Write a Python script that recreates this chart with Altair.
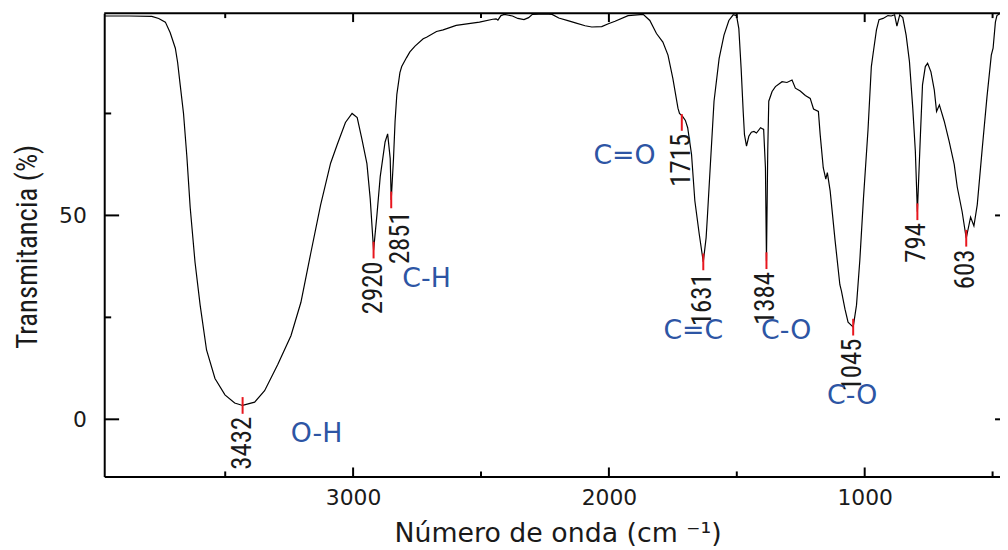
import altair as alt
import pandas as pd

# ---- spectrum ----
wavenumber = [3973, 3876, 3787, 3760, 3734, 3715, 3695, 3686, 3676, 3663, 3650, 3637, 3618, 3598,
              3573, 3540, 3501, 3463, 3432, 3385, 3346, 3295, 3243, 3204, 3166, 3127, 3088, 3062,
              3030, 3004, 2984, 2965, 2946, 2933, 2920, 2907, 2894, 2875, 2865, 2855, 2851, 2842,
              2836, 2829, 2817, 2810, 2791, 2778, 2758, 2726, 2713, 2674, 2648, 2597, 2506, 2454,
              2441, 2434, 2422, 2409, 2377, 2356, 2332, 2314, 2299, 2248, 2222, 2196, 2157, 2131,
              2093, 2067, 2028, 2002, 1976, 1925, 1866, 1840, 1814, 1789, 1769, 1750, 1730, 1724,
              1712, 1701, 1692, 1677, 1664, 1647, 1631, 1620, 1615, 1604, 1589, 1569, 1550, 1531,
              1514, 1501, 1492, 1483, 1475, 1470, 1462, 1453, 1443, 1433, 1423, 1407, 1395, 1388,
              1384, 1379, 1375, 1362, 1349, 1323, 1304, 1284, 1271, 1252, 1232, 1213, 1200, 1181,
              1174, 1162, 1152, 1146, 1135, 1116, 1097, 1091, 1077, 1065, 1045, 1032, 1019, 1005,
              987, 974, 967, 954, 944, 928, 909, 896, 883, 874, 863, 851, 838, 825, 812, 802,
              794, 782, 774, 763, 754, 741, 728, 719, 708, 689, 670, 650, 638, 619, 603, 586,
              573, 560, 541, 522, 505, 498, 489, 483, 471]
transmittance = [98.9, 98.9, 98.8, 98.3, 97.4, 94.8, 91.0, 87.5, 82.0, 75.0, 64.5, 52.0, 38.5, 28.0,
                 17.0, 10.0, 6.0, 4.0, 3.4, 4.2, 7.0, 13.4, 20.5, 28.7, 40.6, 52.6, 62.8, 67.4,
                 72.8, 75.0, 74.0, 68.5, 62.7, 54.0, 41.5, 50.0, 59.5, 68.0, 70.0, 64.0, 53.8, 64.0,
                 73.0, 79.7, 85.0, 86.5, 88.7, 90.1, 91.5, 93.3, 93.7, 95.1, 95.5, 96.6, 97.4, 98.1,
                 98.2, 97.9, 99.0, 99.3, 98.9, 98.3, 98.0, 98.5, 99.3, 99.4, 99.3, 98.4, 97.7, 97.2,
                 96.5, 96.2, 96.3, 97.0, 97.6, 99.0, 99.3, 97.8, 94.6, 92.5, 89.3, 83.6, 76.3, 75.0,
                 74.3, 73.3, 71.5, 65.0, 53.6, 45.5, 38.6, 44.5, 49.6, 61.7, 78.0, 88.5, 94.2, 97.8,
                 99.2, 99.0, 95.8, 86.0, 75.5, 69.8, 67.0, 69.4, 70.4, 70.6, 70.2, 71.5, 71.1, 61.7,
                 38.9, 65.8, 78.0, 80.4, 81.6, 82.8, 82.6, 83.2, 81.2, 80.5, 79.4, 78.7, 76.1, 75.5,
                 69.8, 61.7, 58.9, 60.5, 56.0, 44.0, 33.0, 31.5, 27.0, 23.8, 22.6, 28.0, 39.0, 54.0,
                 71.0, 86.5, 89.7, 95.5, 98.0, 98.3, 99.0, 98.9, 99.2, 96.4, 99.2, 98.5, 94.2, 87.7,
                 76.3, 65.8, 50.9, 69.9, 82.0, 86.5, 87.3, 85.2, 80.8, 75.5, 77.1, 73.1, 68.2, 62.5,
                 56.9, 50.9, 44.4, 49.6, 47.4, 52.6, 66.0, 79.0, 89.3, 91.0, 97.4, 99.0, 99.5]

# ---- peak annotations ----
peak_wn = [3432, 2920, 2851, 1715, 1631, 1384, 1045, 794, 603]
peak_T = [3.4, 41.5, 53.8, 72.8, 38.6, 38.9, 22.6, 50.9, 44.4]
peak_label_wn = [3432, 2920, 2812, 1715, 1631, 1384, 1045, 794, 603]
peak_text = ["3432", "2920", "2851", "1715", "1631", "1384", "1045", "794", "603"]

# ---- functional group labels ----
group_text = ["O-H", "C-H", "C=O", "C=C", "C-O", "C-O"]
group_wn = [3143, 2713, 1939, 1670, 1307, 1049]
group_T = [-3.5, 34.4, 64.6, 21.6, 21.6, 5.6]

# ---- axis ticks ----
x_major = [1000, 2000, 3000]
x_minor = [500, 1500, 2500, 3500]
y_major = [0, 50]
y_minor = [25, 75]

W, H = 903, 467
X_DOMAIN = [3973, 471]
Y_DOMAIN = [-14, 99.6]
TICK_HALF = 2.05

WIDE = "DejaVu Sans"
NARROW = "Liberation Sans Narrow, Roboto Condensed, DejaVu Sans Condensed, sans-serif"
BLUE = "#2d55a4"
RED = "#e8161e"
INK = "#1a1a1a"

xs = alt.Scale(domain=X_DOMAIN, nice=False, zero=False)
ys = alt.Scale(domain=Y_DOMAIN, nice=False, zero=False)

spec = pd.DataFrame({"wn": wavenumber, "T": transmittance})
peaks = pd.DataFrame({"wn": peak_wn, "T": peak_T, "lwn": peak_label_wn, "label": peak_text})
peaks["lo"] = peaks["T"] - TICK_HALF
peaks["hi"] = peaks["T"] + TICK_HALF
groups = pd.DataFrame({"wn": group_wn, "T": group_T, "label": group_text})
xmaj = pd.DataFrame({"wn": x_major})
xmin = pd.DataFrame({"wn": x_minor})
ymaj = pd.DataFrame({"T": y_major})
ymin = pd.DataFrame({"T": y_minor})
one = pd.DataFrame({"a": [0]})

x_axis = alt.Axis(
    values=x_major, format="d", ticks=False, tickSize=0, grid=False, domain=True,
    domainColor="black", domainWidth=2, labelFont=WIDE, labelFontSize=22, labelColor=INK,
    labelPadding=11, title="Número de onda (cm ⁻¹)", titleFont=WIDE, titleFontSize=27,
    titleFontWeight="normal", titleColor=INK, titleX=457, titleY=66,
    titleBaseline="alphabetic", titleAlign="center")
y_axis = alt.Axis(
    values=y_major, format="d", ticks=False, tickSize=0, grid=False, domain=True,
    domainColor="black", domainWidth=2, labelFont=WIDE, labelFontSize=22, labelColor=INK,
    labelPadding=18, title="Transmitancia (%)", titleFont=NARROW, titleFontSize=29,
    titleFontWeight="normal", titleColor=INK, titleX=-77, titleY=235,
    titleBaseline="middle", titleAlign="center", titleAngle=270)

line = alt.Chart(spec).mark_line(color="black", strokeWidth=1.2, clip=True).encode(
    x=alt.X("wn:Q", scale=xs, axis=x_axis),
    y=alt.Y("T:Q", scale=ys, axis=y_axis),
    order=alt.Order("wn:Q", sort="descending"),
)

top_frame = alt.Chart(one).mark_rule(color="black", strokeWidth=2).encode(
    x=alt.value(0), x2=alt.value(W), y=alt.value(0))

def xticks(df, length):
    bottom = alt.Chart(df).mark_rule(color="black", strokeWidth=2).encode(
        x=alt.X("wn:Q", scale=xs), y=alt.value(H), y2=alt.value(H - length))
    top = alt.Chart(df).mark_rule(color="black", strokeWidth=2).encode(
        x=alt.X("wn:Q", scale=xs), y=alt.value(0), y2=alt.value(length))
    return [bottom, top]

def yticks(df, length, right_len):
    left = alt.Chart(df).mark_rule(color="black", strokeWidth=2).encode(
        y=alt.Y("T:Q", scale=ys), x=alt.value(0), x2=alt.value(length))
    layers = [left]
    if right_len > 0:
        right = alt.Chart(df).mark_rule(color="black", strokeWidth=2).encode(
            y=alt.Y("T:Q", scale=ys), x=alt.value(W - right_len), x2=alt.value(W))
        layers.append(right)
    return layers

red = alt.Chart(peaks).mark_rule(color=RED, strokeWidth=2).encode(
    x=alt.X("wn:Q", scale=xs),
    y=alt.Y("lo:Q", scale=ys), y2="hi:Q")

peak_labels = alt.Chart(peaks).mark_text(
    angle=270, align="right", baseline="middle", font=NARROW, fontSize=27, color=INK, dx=-3
).encode(
    x=alt.X("lwn:Q", scale=xs),
    y=alt.Y("lo:Q", scale=ys),
    text="label:N")

group_labels = alt.Chart(groups).mark_text(
    align="center", baseline="middle", font=WIDE, fontSize=27, color=BLUE
).encode(
    x=alt.X("wn:Q", scale=xs),
    y=alt.Y("T:Q", scale=ys),
    text="label:N")

layers = [line, top_frame] + xticks(xmaj, 9) + xticks(xmin, 5) + yticks(ymaj, 15, 5) + \
    yticks(ymin, 7, 0) + [red, peak_labels, group_labels]

chart = alt.layer(*layers).properties(
    width=W, height=H,
    autosize=alt.AutoSizeParams(type="none"),
    padding={"left": 97, "top": 3, "right": 0, "bottom": 71},
).configure(background="white").configure_view(stroke=None)

chart.save("out.html", embed_options={"renderer": "svg", "actions": False})
